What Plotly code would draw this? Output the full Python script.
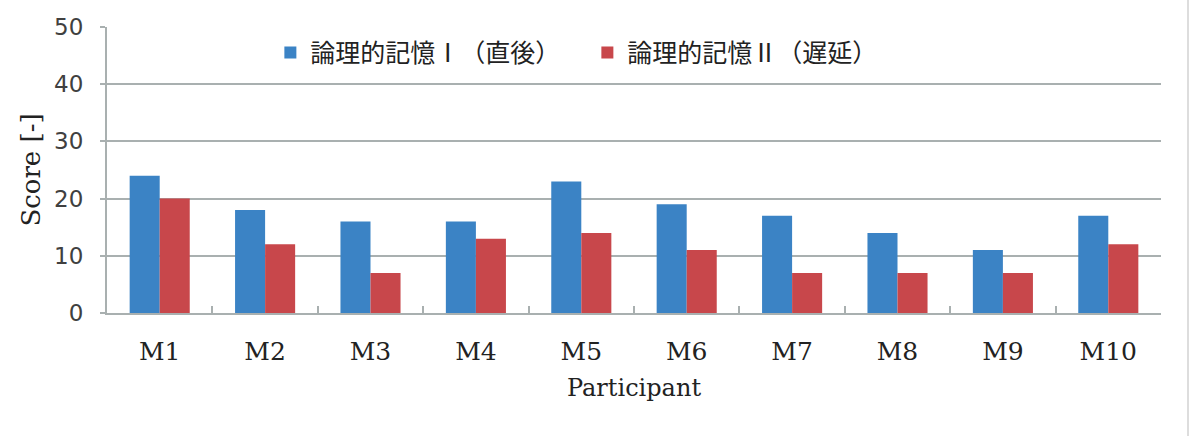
import plotly.graph_objects as go

participants = ["M1", "M2", "M3", "M4", "M5", "M6", "M7", "M8", "M9", "M10"]
immediate = [24, 18, 16, 16, 23, 19, 17, 14, 11, 17]
delayed = [20, 12, 7, 13, 14, 11, 7, 7, 7, 12]
series_names = ["論理的記憶Ⅰ（直後）", "論理的記憶Ⅱ（遅延）"]
y_ticks = [0, 10, 20, 30, 40, 50]

BLUE = "#3b83c5"
RED = "#c8474b"
GRID = "#a9b0b0"
SERIF = "DejaVu Serif, Liberation Serif, serif"
CJK = "Noto Sans CJK JP, Noto Sans CJK SC, sans-serif"

fig = go.Figure()
fig.add_trace(go.Bar(x=participants, y=immediate, name=series_names[0],
                     marker=dict(color=BLUE, line=dict(width=0))))
fig.add_trace(go.Bar(x=participants, y=delayed, name=series_names[1],
                     marker=dict(color=RED, line=dict(width=0))))

fig.update_layout(
    width=1192, height=436,
    margin=dict(l=107, r=31, t=27, b=123),
    paper_bgcolor="white", plot_bgcolor="white",
    barmode="group", bargap=0.43, bargroupgap=0,
    showlegend=True,
    legend=dict(orientation="h", x=0.155, y=0.99, xanchor="left", yanchor="top",
                font=dict(family=CJK, size=25, color="#222222"),
                entrywidth=272, entrywidthmode="pixels",
                bgcolor="rgba(255,255,255,0)", itemwidth=30, traceorder="normal"),
    xaxis=dict(
        showline=True, linecolor=GRID, linewidth=2,
        ticks="inside", ticklen=7, tickcolor=GRID, tickwidth=2,
        tickson="boundaries", showgrid=False,
        tickfont=dict(family=SERIF, size=25, color="#222222"),
        ticklabelstandoff=15,
        title=dict(text="Participant", font=dict(family=SERIF, size=24, color="#222222"), standoff=14),
    ),
    yaxis=dict(
        range=[0, 50], tickvals=y_ticks,
        showline=True, linecolor=GRID, linewidth=2,
        ticks="outside", ticklen=5, tickcolor=GRID, tickwidth=2,
        showgrid=True, gridcolor=GRID, gridwidth=2, zeroline=False,
        tickfont=dict(family="DejaVu Sans, sans-serif", size=23, color="#404040"),
        ticklabelstandoff=12,
        title=dict(text="Score [-]", font=dict(family=SERIF, size=26, color="#222222"), standoff=6),
    ),
)

fig.add_shape(type="line", xref="paper", yref="paper",
              x0=(1188 - 107) / 1054, x1=(1188 - 107) / 1054, y0=-123 / 286, y1=1 + 27 / 286,
              line=dict(color="#dddddd", width=2))

fig.write_html("out.html")
